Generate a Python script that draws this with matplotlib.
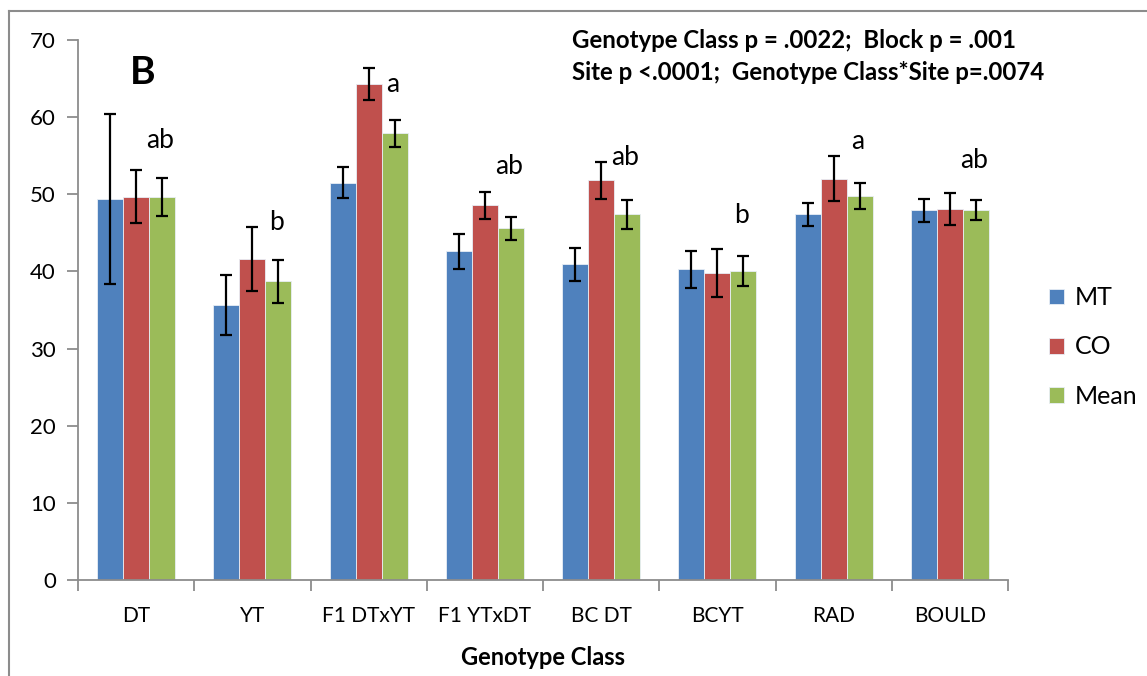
import numpy as np
import matplotlib
matplotlib.use("Agg")
import matplotlib.pyplot as plt
from matplotlib.lines import Line2D

plt.rcParams['font.family'] = ['Lato', 'DejaVu Sans']

# Data
categories = ["DT", "YT", "F1 DTxYT", "F1 YTxDT", "BC DT", "BCYT", "RAD", "BOULD"]
mt = [49.4, 35.7, 51.5, 42.6, 40.9, 40.3, 47.4, 47.9]
mt_err = [11.0, 3.9, 2.0, 2.25, 2.15, 2.4, 1.5, 1.45]
co = [49.7, 41.6, 64.3, 48.6, 51.8, 39.8, 52.0, 48.1]
co_err = [3.45, 4.1, 2.05, 1.75, 2.45, 3.1, 2.9, 2.1]
mean = [49.6, 38.7, 57.9, 45.6, 47.4, 40.1, 49.8, 48.0]
mean_err = [2.45, 2.8, 1.75, 1.5, 1.9, 1.95, 1.7, 1.3]

letters = ["ab", "b", "a", "ab", "ab", "b", "a", "ab"]
letter_y = [57.0, 46.3, 64.2, 53.6, 54.8, 47.2, 56.9, 54.4]

series = [("MT", mt, mt_err, "#4F81BD"),
          ("CO", co, co_err, "#C0504D"),
          ("Mean", mean, mean_err, "#9BBB59")]

fig = plt.figure(figsize=(11.47, 6.76), dpi=100)
# outer chart border (only left and top edges are inside the picture)
bx, by = 9/1147, 1 - 11/676
fig.lines.append(Line2D([bx, bx], [0, by], transform=fig.transFigure, color="#8c8c8c", lw=1.5))
fig.lines.append(Line2D([bx, 1], [by, by], transform=fig.transFigure, color="#8c8c8c", lw=1.5))

ax = fig.add_axes([78/1147, 1 - 580/676, (1008 - 78)/1147, (580 - 40)/676])

x = np.arange(len(categories))
w = 0.223
for i, (name, vals, errs, col) in enumerate(series):
    ax.bar(x + (i - 1) * w, vals, w, color=col, edgecolor="#e8eef6", linewidth=0.6, label=name,
           yerr=errs, error_kw=dict(ecolor="black", elinewidth=1.6, capsize=4, capthick=1.6))

for xi, t, yv in zip(x, letters, letter_y):
    ax.text(xi + 0.21, yv, t, ha="center", va="center", fontsize=19)

ax.set_xlim(-0.5, len(categories) - 0.5)
ax.set_ylim(0, 70)
ax.set_yticks(range(0, 71, 10))
ax.set_xticks(x)
ax.set_xticklabels(categories, fontsize=15)
ax.set_xticks(np.arange(-0.5, len(categories), 1), minor=True)
ax.tick_params(axis="x", which="major", length=0, pad=19)
ax.tick_params(axis="x", which="minor", length=8, width=1.3, color="#8c8c8c", direction="out")
ax.tick_params(axis="y", length=8, width=1.3, color="#8c8c8c", labelsize=16, pad=8)
for s in ["top", "right"]:
    ax.spines[s].set_visible(False)
for s in ["left", "bottom"]:
    ax.spines[s].set_color("#8c8c8c")
    ax.spines[s].set_linewidth(1.3)

ax.set_xlabel("Genotype Class", fontsize=17, fontweight="bold", labelpad=14)

fig.text(130/1147, 1 - 72/676, "B", fontsize=28, fontweight="bold", va="center", ha="left")
fig.text(572/1147, 1 - 40/676, "Genotype Class p = .0022;  Block p = .001",
         fontsize=17.3, fontweight="bold", va="center", ha="left")
fig.text(572/1147, 1 - 72/676, "Site p <.0001;  Genotype Class*Site p=.0074",
         fontsize=17.3, fontweight="bold", va="center", ha="left")

fig.legend(loc="center left", bbox_to_anchor=(1036/1147, 1 - 347/676), frameon=False,
           fontsize=18, labelspacing=1.05, handlelength=0.6, handleheight=0.6,
           handletextpad=0.45, borderpad=0)

fig.savefig("out.png", dpi=100)
